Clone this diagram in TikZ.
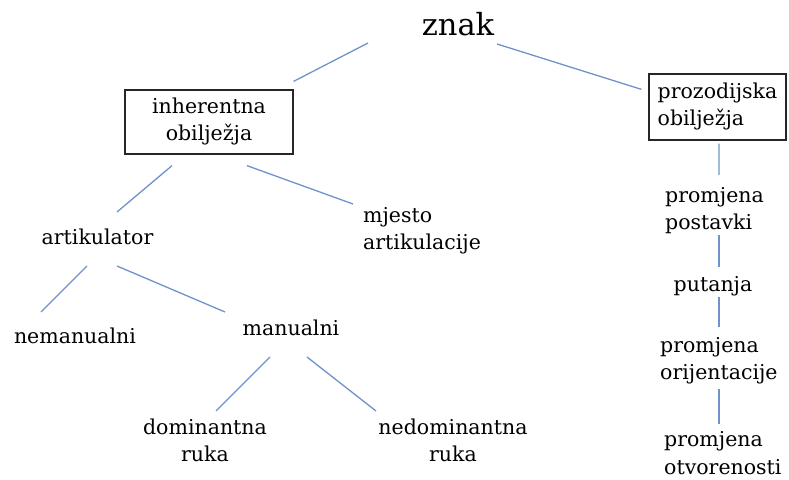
\documentclass[tikz,border=0pt]{standalone}
\usepackage{fontspec}
\setmainfont{DejaVu Serif}
\definecolor{connblue}{RGB}{112,146,202}
\newcommand{\hstrut}{\vrule height 18.9bp depth 0pt width 0pt}
\begin{document}
\begin{tikzpicture}[x=1bp,y=-1bp,
  lbl/.style={font=\fontsize{20.5bp}{27bp}\selectfont, inner sep=0pt, text=black},
  boxed/.style={lbl, draw=black!85, line width=1.3bp},
  conn/.style={draw=connblue, line width=1.3bp}]
\useasboundingbox (0,0) rectangle (789,480);
% nodes
\node[font=\fontsize{30.5bp}{33bp}\selectfont, inner sep=0pt, anchor=base] (znak) at (458,36) {znak};
\node[boxed, align=center, minimum width=168bp, minimum height=64bp] (inh) at (209,122)
  {\strut inherentna\\\strut obilježja};
\node[boxed, align=left, minimum width=137bp, minimum height=66bp] (proz) at (717.5,107)
  {\strut prozodijska\\\strut obilježja};
\node[lbl, anchor=base] (art) at (97.5,245) {artikulator};
\node[lbl, align=left, anchor=north west] (mj) at (363,203.1) {\strut mjesto\\\strut artikulacije};
\node[lbl, anchor=base] (nem) at (75,343) {nemanualni};
\node[lbl, anchor=base] (man) at (291,335) {manualni};
\node[lbl, align=center, anchor=north] (dom) at (205,415.1) {\strut dominantna\\\strut ruka};
\node[lbl, align=center, anchor=north] (ned) at (453,415.1) {\strut nedominantna\\\strut ruka};
\node[lbl, align=left, anchor=north west] (pp) at (665,183.1) {\strut promjena\\\strut postavki};
\node[lbl, anchor=base] (put) at (713,292) {putanja};
\node[lbl, align=left, anchor=north west] (por) at (660,333.1) {\strut promjena\\\strut orijentacije};
\node[lbl, align=left, anchor=north west] (pot) at (664,427.1) {\strut promjena\\\hstrut otvorenosti};
% connectors
\draw[conn] ([shift={(-90,7)}]znak.base) -- ([shift={(0,-8)}]inh.north east);
\draw[conn] ([shift={(39,8)}]znak.base) -- ([shift={(-7,16)}]proz.north west);
\draw[conn] ([shift={(-37,11)}]inh.south) -- ([shift={(19.5,-33)}]art.base);
\draw[conn] ([shift={(38,11)}]inh.south) -- ([shift={(-10,0.9)}]mj.north west);
\draw[conn] ([shift={(-10.5,21)}]art.base) -- ([shift={(-34,-31)}]nem.base);
\draw[conn] ([shift={(19.5,21)}]art.base) -- ([shift={(-66,-23)}]man.base);
\draw[conn] ([shift={(-21,22)}]man.base) -- ([shift={(11,-4.1)}]dom.north);
\draw[conn] ([shift={(16,22)}]man.base) -- ([shift={(-77,-4.1)}]ned.north);
\draw[conn] ([shift={(1.5,3)}]proz.south) -- ([shift={(54,-8.1)}]pp.north west);
\draw[conn] ([shift={(54,51.9)}]pp.north west) -- ([shift={(6,-25)}]put.base);
\draw[conn] ([shift={(6,5)}]put.base) -- ([shift={(59,-6.1)}]por.north west);
\draw[conn] ([shift={(59,55.9)}]por.north west) -- ([shift={(55,-3.1)}]pot.north west);
\end{tikzpicture}
\end{document}
